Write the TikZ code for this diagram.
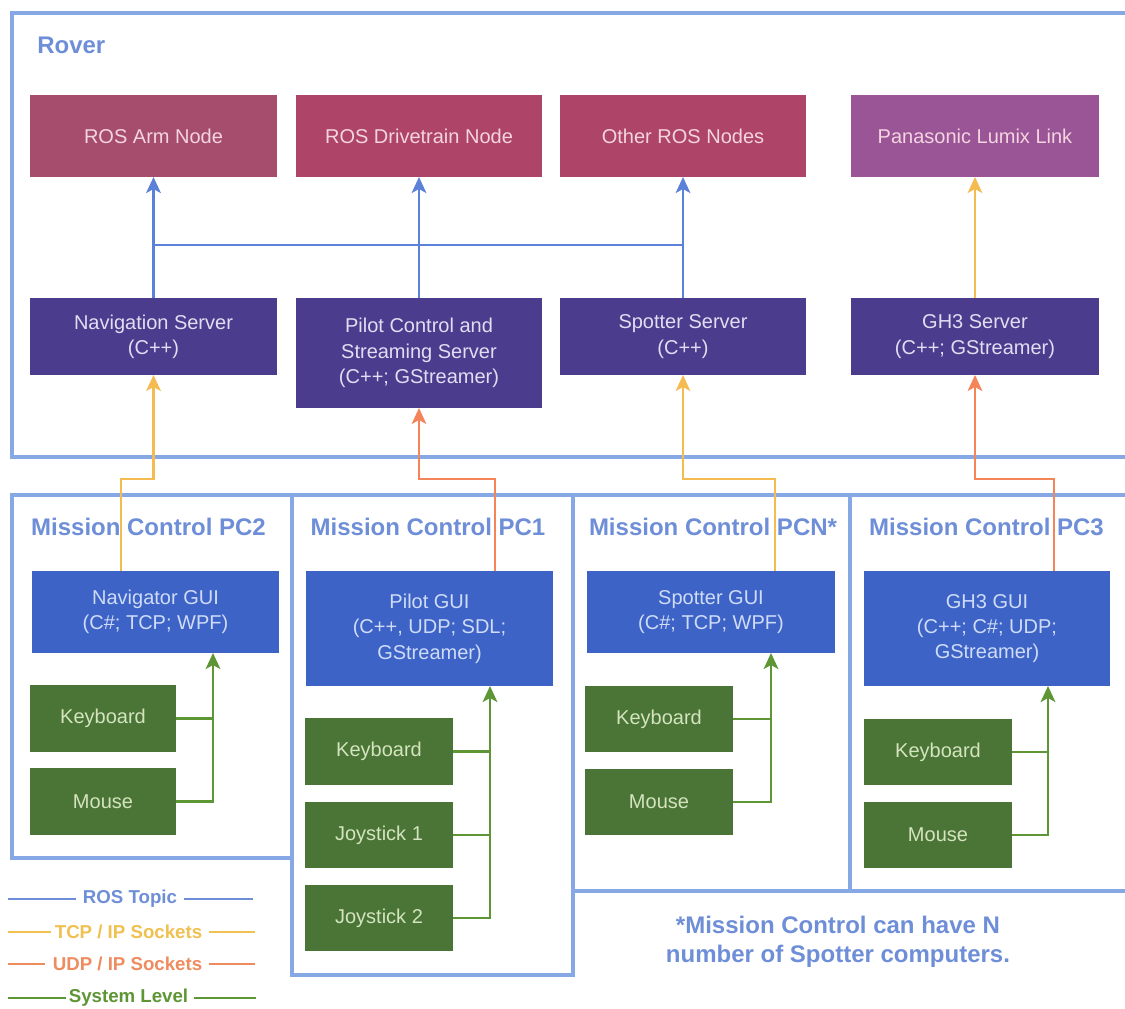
\documentclass[tikz,border=0pt]{standalone}
\usepackage{fontspec}
\setmainfont{Liberation Sans}
\usetikzlibrary{arrows.meta}
\definecolor{borderblue}{HTML}{86A8E4}
\definecolor{titleblue}{HTML}{6E8ED8}
\definecolor{rosline}{HTML}{5B82D8}
\definecolor{rospink}{HTML}{A64D6E}
\definecolor{rospinkb}{HTML}{AE4568}
\definecolor{lumix}{HTML}{9A5596}
\definecolor{pinktext}{HTML}{F4D4E0}
\definecolor{server}{HTML}{4B3C8E}
\definecolor{servertext}{HTML}{E2DEF2}
\definecolor{gui}{HTML}{3E63C6}
\definecolor{guitext}{HTML}{CFDCF8}
\definecolor{devgreen}{HTML}{4A7536}
\definecolor{devtext}{HTML}{D4E4BE}
\definecolor{sysline}{HTML}{5E9636}
\definecolor{tcpline}{HTML}{F4BC50}
\definecolor{udpline}{HTML}{F4845A}
\definecolor{udptext}{HTML}{EE8C60}
\definecolor{tcptext}{HTML}{F0C050}
\newcommand{\pbox}[7]{\node[#1, minimum width={(#5-(#3))*0.75pt}, minimum height={(#6-(#4))*0.75pt}] (#2) at ({(#3+#5)/2},{(#4+#6)/2}) {#7};}
\begin{document}
\begin{tikzpicture}[x=0.75pt,y=-0.75pt,
  box/.style={inner sep=0pt, outer sep=0pt, align=center, font=\fontsize{15}{19}\selectfont},
  armst/.style={box, fill=rospink, text=pinktext},
  drvst/.style={box, fill=rospinkb, text=pinktext},
  lumst/.style={box, fill=lumix, text=pinktext},
  srv/.style={box, fill=server, text=servertext},
  guist/.style={box, fill=gui, text=guitext},
  dev/.style={box, fill=devgreen, text=devtext},
  region/.style={draw=borderblue, line width=3pt},
  title/.style={inner sep=0pt, text=titleblue, font=\fontsize{18}{22}\selectfont\bfseries},
  tip/.style={-{Stealth[length=12pt,width=11pt,inset=3pt]}},
  ros/.style={draw=rosline, line width=2pt},
  tcp/.style={draw=tcpline, line width=1.6pt},
  udp/.style={draw=udpline, line width=1.6pt},
  sys/.style={draw=sysline, line width=2pt},
  legtext/.style={inner sep=0pt, font=\fontsize{14}{16}\selectfont\bfseries}
]
\useasboundingbox (0,0) rectangle (1125,1009);
\clip (0,0) rectangle (1125,1009);
\fill[white] (0,0) rectangle (1125,1009);

% Rover region
\draw[region] (12,13) rectangle (1145,457);
\node[title, anchor=west] (rover) at (37,45) {Rover};

% ROS nodes
\pbox{armst}{arm}{30}{95}{277}{177}{ROS Arm Node}
\pbox{drvst}{drv}{296}{95}{542}{177}{ROS Drivetrain Node}
\pbox{drvst}{oth}{560}{95}{806}{177}{Other ROS Nodes}
\pbox{lumst}{lum}{851}{95}{1099}{177}{Panasonic Lumix Link}

% Servers
\pbox{srv}{nav}{30}{298}{277}{375}{Navigation Server\\(C++)}
\pbox{srv}{pil}{296}{298}{542}{408}{Pilot Control and\\Streaming Server\\(C++; GStreamer)}
\pbox{srv}{spo}{560}{298}{806}{375}{Spotter Server\\(C++)}
\pbox{srv}{ghs}{851}{298}{1099}{375}{GH3 Server\\(C++; GStreamer)}

% ROS topic bus
\coordinate (busy) at (0,245);
\draw[ros] (nav.north |- busy) -- (oth.south |- busy);
\draw[ros,tip] (nav.north) -- (arm.south);
\draw[ros,tip] (pil.north) -- (drv.south);
\draw[ros,tip] (spo.north) -- (oth.south);
\draw[tcp,tip] (ghs.north) -- (lum.south);

% Mission control regions
\draw[region] (12,495) rectangle (292,858);
\draw[region] (292,495) rectangle (573,975);
\draw[region] (573,495) rectangle (850,891);
\draw[region] (850,495) rectangle (1145,891);

\node[title] (t2) at (148.5,527) {Mission Control PC2};
\node[title] (t1) at (428,527) {Mission Control PC1};
\node[title] (tn) at (713,527) {Mission Control PCN*};
\node[title] (t3) at (986.5,527) {Mission Control PC3};

% GUIs
\pbox{guist}{navg}{32}{571}{279}{653}{Navigator GUI\\(C\#; TCP; WPF)}
\pbox{guist}{pilg}{306}{571}{553}{686}{Pilot GUI\\(C++, UDP; SDL;\\GStreamer)}
\pbox{guist}{spog}{587}{571}{835}{653}{Spotter GUI\\(C\#; TCP; WPF)}
\pbox{guist}{ghg}{864}{571}{1110}{686}{GH3 GUI\\(C++; C\#; UDP;\\GStreamer)}

% Devices
\pbox{dev}{kb2}{30}{685}{176}{752}{Keyboard}
\pbox{dev}{ms2}{30}{768}{176}{835}{Mouse}
\pbox{dev}{kb1}{305}{718}{453}{785}{Keyboard}
\pbox{dev}{js1}{305}{802}{453}{868}{Joystick 1}
\pbox{dev}{js2}{305}{885}{453}{951}{Joystick 2}
\pbox{dev}{kbn}{585}{686}{733}{752}{Keyboard}
\pbox{dev}{msn}{585}{769}{733}{835}{Mouse}
\pbox{dev}{kb3}{864}{719}{1012}{785}{Keyboard}
\pbox{dev}{ms3}{864}{802}{1012}{868}{Mouse}

% System level connectors
\coordinate (gx2) at (213,0);
\coordinate (gx1) at (490,0);
\coordinate (gxn) at (771,0);
\coordinate (gx3) at (1048,0);
\draw[sys] (kb2.east) -- (kb2.east -| gx2);
\draw[sys,tip] (ms2.east) -| (navg.south -| gx2);
\draw[sys] (kb1.east) -- (kb1.east -| gx1);
\draw[sys] (js1.east) -- (js1.east -| gx1);
\draw[sys,tip] (js2.east) -| (pilg.south -| gx1);
\draw[sys] (kbn.east) -- (kbn.east -| gxn);
\draw[sys,tip] (msn.east) -| (spog.south -| gxn);
\draw[sys] (kb3.east) -- (kb3.east -| gx3);
\draw[sys,tip] (ms3.east) -| (ghg.south -| gx3);

% GUI to server links
\coordinate (j2) at (121,479);
\coordinate (j1) at (495,479);
\coordinate (jn) at (775,479);
\coordinate (j3) at (1054,479);
\draw[tcp,tip] (navg.north -| j2) -- (j2) -- (nav.south |- j2) -- (nav.south);
\draw[udp,tip] (pilg.north -| j1) -- (j1) -- (pil.south |- j1) -- (pil.south);
\draw[tcp,tip] (spog.north -| jn) -- (jn) -- (spo.south |- jn) -- (spo.south);
\draw[udp,tip] (ghg.north -| j3) -- (j3) -- (ghs.south |- j3) -- (ghs.south);

% Legend
\node[legtext, text=titleblue] (lg1) at (130,899) {ROS Topic};
\node[legtext, text=tcptext] (lg2) at (128.5,932) {TCP / IP Sockets};
\node[legtext, text=udptext] (lg3) at (127.5,964) {UDP / IP Sockets};
\node[legtext, text=sysline] (lg4) at (128.5,998) {System Level};
\coordinate (l1a) at (8,899);   \coordinate (l1b) at (253,899);
\coordinate (l2a) at (8,932);   \coordinate (l2b) at (255,932);
\coordinate (l3a) at (8,964);   \coordinate (l3b) at (255,964);
\coordinate (l4a) at (8,998);   \coordinate (l4b) at (256,998);
\draw[titleblue, line width=2pt] (l1a) -- ([xshift=-5pt]lg1.west);
\draw[titleblue, line width=2pt] ([xshift=5pt]lg1.east) -- (l1b);
\draw[tcptext, line width=2pt] (l2a) -- ([xshift=-3pt]lg2.west);
\draw[tcptext, line width=2pt] ([xshift=5pt]lg2.east) -- (l2b);
\draw[udptext, line width=2pt] (l3a) -- ([xshift=-6pt]lg3.west);
\draw[udptext, line width=2pt] ([xshift=5pt]lg3.east) -- (l3b);
\draw[sysline, line width=2pt] (l4a) -- ([xshift=-2pt]lg4.west);
\draw[sysline, line width=2pt] ([xshift=4pt]lg4.east) -- (l4b);

% Note
\node[title, align=center] (note) at (838,942) {*Mission Control can have N\\number of Spotter computers.};
\end{tikzpicture}
\end{document}
